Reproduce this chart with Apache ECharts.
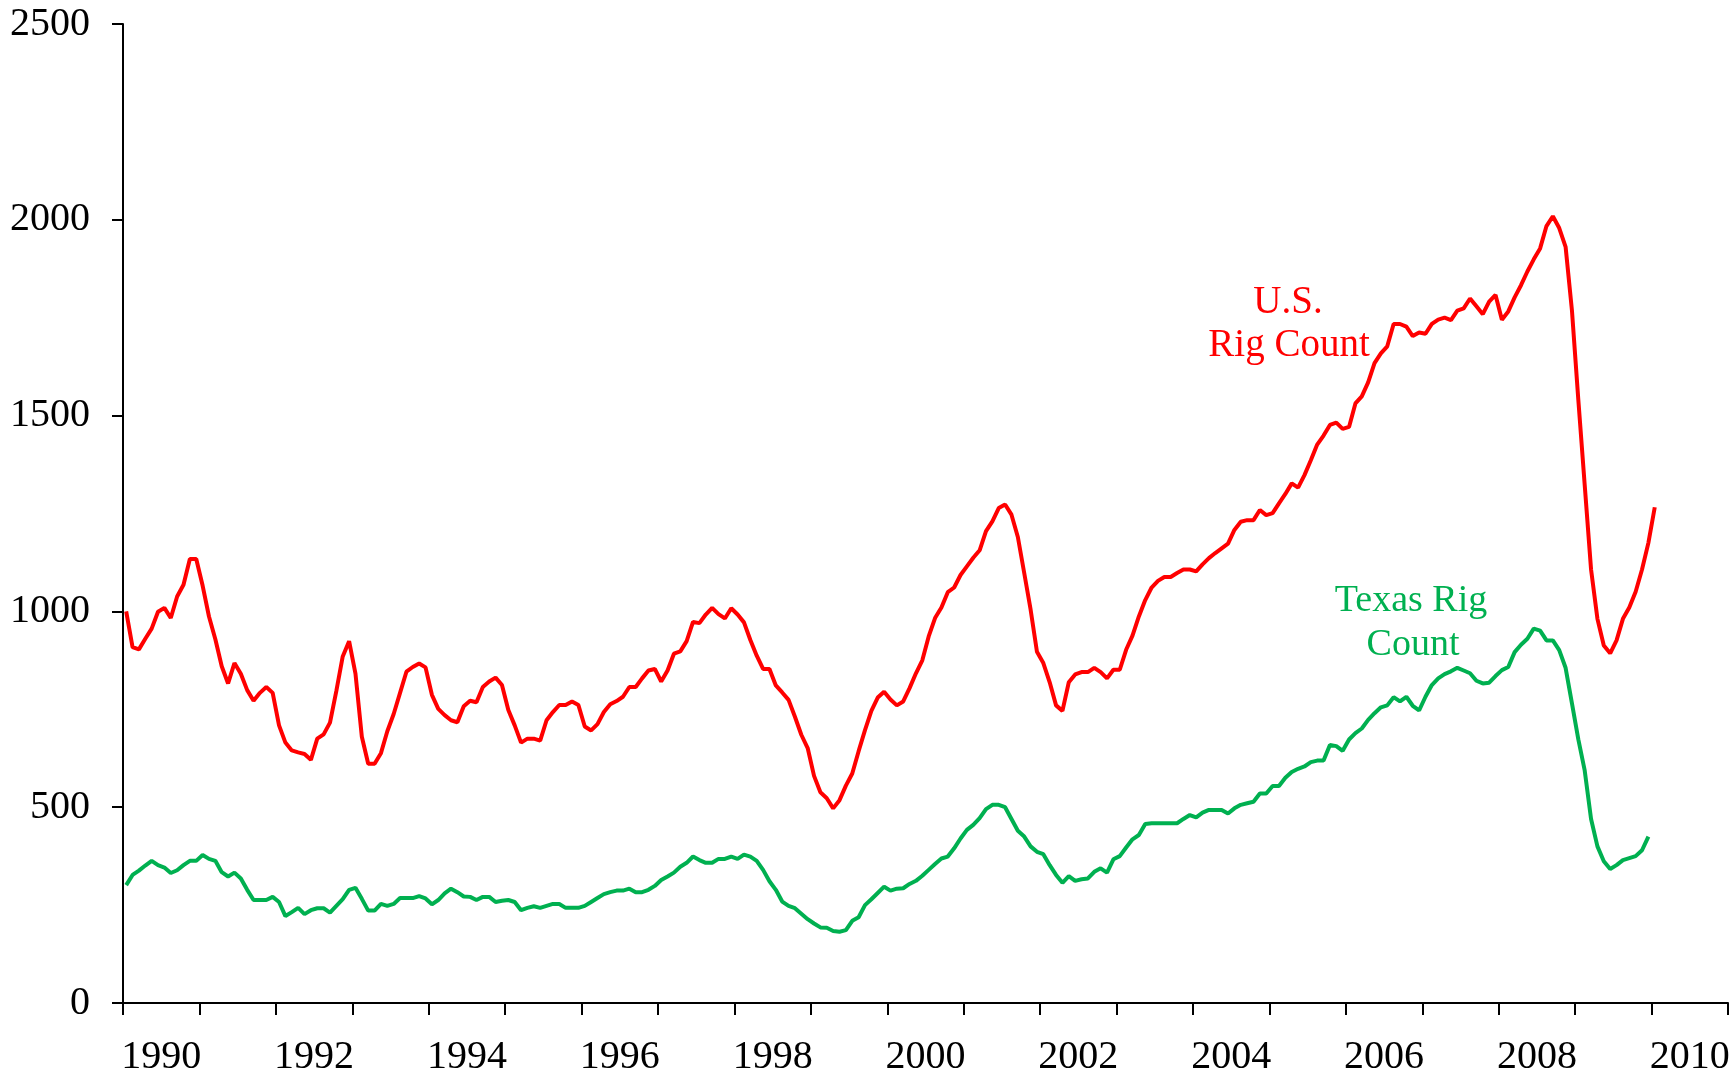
<!DOCTYPE html>
<html>
<head>
<meta charset="utf-8">
<title>Rig Count</title>
<script src="https://cdn.jsdelivr.net/npm/echarts@6/dist/echarts.min.js"></script>
<style>
	html, body { margin: 0; padding: 0; background: #ffffff; }
	#chart { width: 1733px; height: 1077px; }
</style>
</head>
<body>
<div id="chart"></div>
<script>
// monthly rig counts, starting Jan 1990
var startYear = 1990;

var usRigCount = [
	1000, 909, 903, 930, 956, 999, 1009, 983, 1038, 1068, 1134, 1134,
	1066, 987, 929, 860, 816, 868, 841, 799, 772, 792, 807, 792,
	709, 665, 645, 640, 636, 621, 675, 686, 716, 797, 885, 924,
	841, 680, 611, 611, 638, 694, 738, 792, 846, 858, 867, 857,
	787, 751, 735, 722, 717, 758, 772, 768, 807, 821, 831, 812,
	748, 709, 665, 675, 675, 670, 722, 743, 761, 761, 770, 761,
	706, 696, 712, 743, 763, 771, 782, 807, 807, 829, 849, 853,
	821, 849, 892, 898, 924, 973, 970, 992, 1009, 993, 982, 1008,
	992, 972, 927, 887, 853, 853, 811, 793, 774, 731, 685, 651,
	580, 538, 523, 497, 518, 555, 586, 643, 697, 746, 780, 795,
	775, 760, 770, 804, 842, 875, 936, 983, 1010, 1049, 1061, 1093,
	1115, 1137, 1156, 1205, 1230, 1264, 1273, 1247, 1190, 1098, 1005, 897,
	868, 819, 760, 746, 819, 839, 845, 845, 856, 845, 829, 851,
	851, 902, 938, 987, 1029, 1061, 1078, 1088, 1088, 1098, 1107, 1107,
	1102, 1120, 1136, 1149, 1161, 1173, 1208, 1229, 1233, 1233, 1259, 1246,
	1251, 1276, 1300, 1327, 1316, 1348, 1386, 1426, 1449, 1476, 1482, 1466,
	1471, 1531, 1549, 1585, 1634, 1659, 1677, 1734, 1734, 1727, 1703, 1712,
	1709, 1734, 1745, 1750, 1744, 1768, 1774, 1799, 1779, 1759, 1791, 1808,
	1745, 1766, 1802, 1833, 1868, 1899, 1927, 1984, 2009, 1979, 1931, 1768,
	1540, 1323, 1107, 981, 913, 893, 926, 981, 1010, 1050, 1107, 1175,
	1266
];

var texasRigCount = [
	301, 327, 338, 351, 363, 352, 346, 332, 339, 352, 363, 363,
	378, 368, 363, 334, 323, 333, 318, 289, 263, 263, 263, 271,
	258, 222, 232, 243, 227, 237, 242, 242, 231, 248, 265, 289,
	294, 266, 236, 236, 253, 248, 253, 268, 268, 268, 273, 267,
	252, 263, 280, 292, 283, 272, 271, 263, 271, 271, 258, 261,
	263, 258, 237, 243, 247, 243, 248, 253, 253, 243, 243, 243,
	248, 258, 268, 278, 283, 287, 287, 292, 283, 283, 289, 299,
	314, 323, 333, 348, 358, 374, 365, 358, 358, 368, 368, 374,
	368, 379, 374, 363, 340, 311, 289, 259, 248, 242, 228, 214,
	203, 193, 192, 184, 182, 186, 210, 219, 250, 265, 281, 297,
	287, 292, 293, 304, 312, 325, 340, 355, 369, 374, 395, 420,
	442, 455, 472, 495, 506, 506, 500, 470, 440, 425, 400, 386,
	380, 352, 327, 307, 324, 312, 316, 318, 335, 344, 333, 367,
	375, 397, 418, 429, 457, 459, 459, 459, 459, 459, 470, 480,
	474, 486, 493, 493, 493, 484, 497, 506, 510, 514, 535, 535,
	554, 554, 575, 590, 598, 604, 615, 619, 619, 659, 656, 644,
	673, 689, 701, 723, 740, 755, 760, 781, 770, 782, 759, 747,
	782, 812, 829, 840, 847, 856, 849, 842, 823, 816, 818, 835,
	850, 858, 896, 915, 930, 956, 951, 926, 926, 901, 856, 765,
	673, 594, 470, 400, 362, 342, 352, 365, 370, 375, 390, 425
];

var yearLabels = [];
for (var y = 1990; y <= 2010; y++) {
	yearLabels.push(String(y));
}

function toPoints(arr) {
	var pts = [];
	for (var i = 0; i < arr.length; i++) {
		pts.push([startYear + (i + 0.5) / 12, arr[i]]);
	}
	return pts;
}

var serifFont = "'Liberation Serif', 'Times New Roman', serif";

var chart = echarts.init(document.getElementById("chart"));
var option = {
	animation : false,
	backgroundColor : '#ffffff',
	grid : {
		left : 123,
		right : 5,
		top : 24,
		bottom : 74
	},
	xAxis : [
		{
			type : 'value',
			position : 'bottom',
			min : 1990,
			max : 2011,
			interval : 1,
			axisLine : {
				show : true,
				lineStyle : { color : '#000000', width : 2 }
			},
			axisTick : {
				show : true,
				inside : false,
				length : 12,
				lineStyle : { color : '#000000', width : 2 }
			},
			axisLabel : { show : false },
			splitLine : { show : false }
		},
		{
			type : 'category',
			position : 'bottom',
			data : yearLabels,
			boundaryGap : true,
			axisLine : { show : false },
			axisTick : { show : false },
			axisLabel : {
				interval : 1,
				margin : 34,
				color : '#000000',
				fontFamily : serifFont,
				fontSize : 40
			},
			splitLine : { show : false }
		}
	],
	yAxis : {
		type : 'value',
		min : 0,
		max : 2500,
		interval : 500,
		axisLine : {
			show : true,
			lineStyle : { color : '#000000', width : 2 }
		},
		axisTick : {
			show : true,
			inside : false,
			length : 11,
			lineStyle : { color : '#000000', width : 2 }
		},
		axisLabel : {
			margin : 33,
			color : '#000000',
			fontFamily : serifFont,
			fontSize : 40,
			formatter : function (v) { return String(v); }
		},
		splitLine : { show : false }
	},
	graphic : [
		{ type : 'text', x : 1288, y : 303, style : { text : 'U.S.', fill : '#ff0000', font : '39px ' + serifFont, textAlign : 'center', textVerticalAlign : 'middle' } },
		{ type : 'text', x : 1289, y : 346, style : { text : 'Rig Count', fill : '#ff0000', font : '39px ' + serifFont, textAlign : 'center', textVerticalAlign : 'middle' } },
		{ type : 'text', x : 1411, y : 601, style : { text : 'Texas Rig', fill : '#00b050', font : '38px ' + serifFont, textAlign : 'center', textVerticalAlign : 'middle' } },
		{ type : 'text', x : 1413, y : 645, style : { text : 'Count', fill : '#00b050', font : '38px ' + serifFont, textAlign : 'center', textVerticalAlign : 'middle' } }
	],
	series : [
		{
			name : 'U.S. Rig Count',
			type : 'line',
			xAxisIndex : 0,
			data : toPoints(usRigCount),
			symbol : 'none',
			lineStyle : { color : '#ff0000', width : 4 },
			itemStyle : { color : '#ff0000' }
		},
		{
			name : 'Texas Rig Count',
			type : 'line',
			xAxisIndex : 0,
			data : toPoints(texasRigCount),
			symbol : 'none',
			lineStyle : { color : '#00b050', width : 4 },
			itemStyle : { color : '#00b050' }
		}
	]
};
chart.setOption(option);
window.onresize = chart.resize;
</script>
</body>
</html>
